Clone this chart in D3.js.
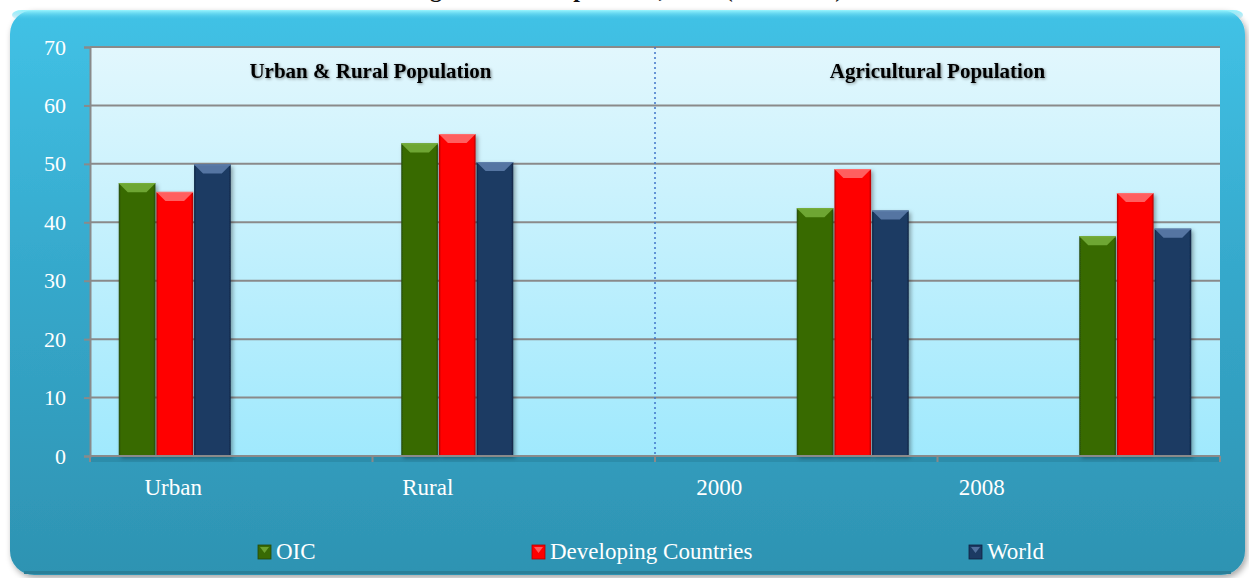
<!DOCTYPE html>
<html>
<head>
<meta charset="utf-8">
<script src="https://cdn.jsdelivr.net/npm/d3@7"></script>
<style>
  html, body { margin: 0; padding: 0; background: #ffffff; }
  svg { display: block; }
  text { font-family: 'Liberation Serif', 'DejaVu Serif', serif; }
</style>
</head>
<body>
<svg id="chart" width="1249" height="578"></svg>
<script>
// ---------------- data ----------------
const categories = ["Urban", "Rural", "2000", "2008"];
const sectionOfCategory = [0, 0, 1, 1];
const sectionTitles = ["Urban & Rural Population", "Agricultural Population"];
const seriesNames = ["OIC", "Developing Countries", "World"];
const oicValues = [46.7, 53.5, 42.4, 37.6];
const developingValues = [45.2, 55.1, 49.1, 45.0];
const worldValues = [49.9, 50.3, 42.0, 38.9];
const yTicks = [0, 10, 20, 30, 40, 50, 60, 70];
const chartTitle = "Agricultural Population, 2008 (% of total)";

// ---------------- layout ----------------
const W = 1249, H = 578;
const FONT = "'Liberation Serif', 'DejaVu Serif', serif";
const plot = { left: 90, right: 1220, top: 47, bottom: 456 };
const labelShift = [-58, -86, -77, -97]; // category label offset from band centre
const seriesColors = [
  { base: "#386a04", light: "#78b03c", dark: "#24480a" },
  { base: "#ff0000", light: "#ff7070", dark: "#b00000" },
  { base: "#1c3a63", light: "#5f80ad", dark: "#0f2240" }
];

const svg = d3.select("#chart");
const defs = svg.append("defs");

const pg = defs.append("linearGradient").attr("id", "panelGrad").attr("x1", 0).attr("y1", 0).attr("x2", 0).attr("y2", 1);
pg.append("stop").attr("offset", "0%").attr("stop-color", "#41c2e6");
pg.append("stop").attr("offset", "45%").attr("stop-color", "#36a9cc");
pg.append("stop").attr("offset", "100%").attr("stop-color", "#2e93b2");

const bg = defs.append("linearGradient").attr("id", "plotGrad").attr("x1", 0).attr("y1", 0).attr("x2", 0).attr("y2", 1);
bg.append("stop").attr("offset", "0%").attr("stop-color", "#e2f7fd");
bg.append("stop").attr("offset", "100%").attr("stop-color", "#a0e9fd");

const topHi = defs.append("linearGradient").attr("id", "topHi").attr("x1", 0).attr("y1", 0).attr("x2", 0).attr("y2", 1);
topHi.append("stop").attr("offset", "0%").attr("stop-color", "#9af6ff");
topHi.append("stop").attr("offset", "100%").attr("stop-color", "#41c2e6").attr("stop-opacity", 0);

const f = defs.append("filter").attr("id", "panelShadow").attr("x", "-5%").attr("y", "-5%").attr("width", "110%").attr("height", "115%");
f.append("feDropShadow").attr("dx", 2).attr("dy", 3).attr("stdDeviation", 3).attr("flood-color", "#000").attr("flood-opacity", 0.35);

const ts = defs.append("filter").attr("id", "textGlow").attr("x", "-10%").attr("y", "-30%").attr("width", "120%").attr("height", "160%");
ts.append("feDropShadow").attr("dx", 1).attr("dy", 1).attr("stdDeviation", 1.5).attr("flood-color", "#000").attr("flood-opacity", 0.45);

const bs = defs.append("filter").attr("id", "barShadow").attr("x", "-20%").attr("y", "-5%").attr("width", "140%").attr("height", "110%");
bs.append("feDropShadow").attr("dx", 2).attr("dy", 2).attr("stdDeviation", 2).attr("flood-color", "#000").attr("flood-opacity", 0.35);

// title (cut off at the top of the picture, as in the reference)
svg.append("text")
  .attr("x", 628).attr("y", -3)
  .attr("text-anchor", "middle")
  .attr("font-family", FONT)
  .attr("font-weight", "bold")
  .attr("font-size", 24)
  .attr("fill", "#111")
  .text(chartTitle);

// panel
svg.append("rect")
  .attr("x", 10).attr("y", 10).attr("width", 1235).attr("height", 565)
  .attr("rx", 24).attr("ry", 24)
  .attr("fill", "url(#panelGrad)")
  .attr("filter", "url(#panelShadow)");
svg.append("rect")
  .attr("x", 12).attr("y", 10).attr("width", 1231).attr("height", 10)
  .attr("rx", 10).attr("fill", "url(#topHi)");
svg.append("rect")
  .attr("x", 24).attr("y", 571).attr("width", 1207).attr("height", 3)
  .attr("fill", "#2a7f98");

// scales
const x = d3.scaleBand().domain(categories).range([plot.left, plot.right]).padding(0);
const slotKeys = d3.range(sectionTitles.length * seriesNames.length);
const inner = d3.scaleBand().domain(slotKeys).range([0, x.bandwidth()]).paddingInner(0).paddingOuter(0.75);
const y = d3.scaleLinear().domain([0, 70]).range([plot.bottom, plot.top]);

// plot background
svg.append("rect")
  .attr("x", plot.left).attr("y", plot.top)
  .attr("width", plot.right - plot.left).attr("height", plot.bottom - plot.top)
  .attr("fill", "url(#plotGrad)");
svg.append("rect")
  .attr("x", plot.left).attr("y", plot.bottom)
  .attr("width", plot.right - plot.left).attr("height", 6)
  .attr("fill", "#2a8aa6").attr("opacity", 0.8);

// gridlines
svg.append("g")
  .selectAll("line")
  .data(yTicks.filter(t => t > 0))
  .join("line")
  .attr("x1", plot.left).attr("x2", plot.right)
  .attr("y1", d => y(d)).attr("y2", d => y(d))
  .attr("stroke", "#8a8a8a").attr("stroke-width", 2);

// section divider
svg.append("line")
  .attr("x1", x(categories[2])).attr("x2", x(categories[2]))
  .attr("y1", plot.top).attr("y2", plot.bottom)
  .attr("stroke", "#3f74c8").attr("stroke-width", 1.5)
  .attr("stroke-dasharray", "2,3");

// section titles
sectionTitles.forEach((t, i) => {
  const cats = categories.filter((c, k) => sectionOfCategory[k] === i);
  const x0 = x(cats[0]), x1 = x(cats[cats.length - 1]) + x.bandwidth();
  svg.append("text")
    .attr("x", (x0 + x1) / 2 + (i === 0 ? -2 : 0)).attr("y", 78)
    .attr("text-anchor", "middle")
    .attr("font-family", FONT)
    .attr("font-weight", "bold")
    .attr("font-size", 21)
    .attr("fill", "#000")
    .attr("filter", "url(#textGlow)")
    .text(t);
});

// bars
const series = [oicValues, developingValues, worldValues];
const barData = [];
categories.forEach((c, ci) => {
  series.forEach((vals, si) => {
    barData.push({ cat: c, si, slot: sectionOfCategory[ci] * seriesNames.length + si, v: vals[ci] });
  });
});

seriesColors.forEach((col, i) => {
  const g = defs.append("linearGradient").attr("id", "barGrad" + i).attr("x1", 0).attr("y1", 0).attr("x2", 1).attr("y2", 0);
  g.append("stop").attr("offset", "0%").attr("stop-color", col.dark);
  g.append("stop").attr("offset", "6%").attr("stop-color", col.base);
  g.append("stop").attr("offset", "94%").attr("stop-color", col.base);
  g.append("stop").attr("offset", "100%").attr("stop-color", col.dark);
});

const barG = svg.append("g");
const bars = barG.selectAll("g.bar").data(barData).join("g").attr("class", "bar");
bars.append("rect")
  .attr("x", d => x(d.cat) + inner(d.slot) + 0.5)
  .attr("y", d => y(d.v))
  .attr("width", inner.bandwidth() - 1)
  .attr("height", d => y(0) - y(d.v))
  .attr("fill", d => `url(#barGrad${d.si})`)
  .attr("filter", "url(#barShadow)");
bars.append("path")
  .attr("d", d => {
    const x0 = x(d.cat) + inner(d.slot) + 0.5, w = inner.bandwidth() - 1, t = y(d.v), b = 9;
    return `M${x0},${t} L${x0 + w},${t} L${x0 + w - b},${t + b} L${x0 + b},${t + b} Z`;
  })
  .attr("fill", d => seriesColors[d.si].light)
  .attr("opacity", 0.85);
bars.append("line")
  .attr("x1", d => x(d.cat) + inner(d.slot) + 0.5)
  .attr("x2", d => x(d.cat) + inner(d.slot) + inner.bandwidth() - 0.5)
  .attr("y1", d => y(d.v) + 0.5).attr("y2", d => y(d.v) + 0.5)
  .attr("stroke", d => seriesColors[d.si].light).attr("stroke-width", 1);

// axes
const yAxis = d3.axisLeft(y).tickValues(yTicks).tickSize(6).tickPadding(18);
const yg = svg.append("g").attr("transform", `translate(${plot.left},0)`).call(yAxis);
yg.attr("font-family", FONT);
yg.select(".domain").attr("stroke", "#8a8a8a").attr("stroke-width", 2);
yg.selectAll(".tick line").attr("stroke", "#8a8a8a").attr("stroke-width", 2);
yg.selectAll(".tick text")
  .attr("fill", "#ffffff")
  .attr("font-family", FONT)
  .attr("font-size", 22);

const xg = svg.append("g").attr("transform", `translate(0,${plot.bottom})`);
xg.append("line")
  .attr("x1", plot.left).attr("x2", plot.right)
  .attr("y1", 0).attr("y2", 0)
  .attr("stroke", "#8a8a8a").attr("stroke-width", 2);
xg.selectAll("line.tick")
  .data(categories.concat(["__end"]))
  .join("line").attr("class", "tick")
  .attr("x1", d => d === "__end" ? plot.right : x(d))
  .attr("x2", d => d === "__end" ? plot.right : x(d))
  .attr("y1", 0).attr("y2", 6)
  .attr("stroke", "#8a8a8a").attr("stroke-width", 2);
xg.selectAll("text")
  .data(categories)
  .join("text")
  .attr("x", (d, i) => x(d) + x.bandwidth() / 2 + labelShift[i])
  .attr("y", 39)
  .attr("text-anchor", "middle")
  .attr("fill", "#ffffff")
  .attr("font-family", FONT)
  .attr("font-size", 23)
  .text(d => d);

// legend
const legendX = [258, 532, 969];
const lg = svg.append("g");
seriesNames.forEach((n, i) => {
  const g = lg.append("g").attr("transform", `translate(${legendX[i]},545)`);
  g.append("rect").attr("width", 13).attr("height", 14).attr("fill", seriesColors[i].base)
    .attr("stroke", seriesColors[i].dark).attr("stroke-width", 0.8);
  g.append("path").attr("d", "M2,2 L11,2 L6.5,8 Z").attr("fill", seriesColors[i].light).attr("opacity", 0.8);
  g.append("text").attr("x", 18).attr("y", 14)
    .attr("fill", "#ffffff")
    .attr("font-family", FONT)
    .attr("font-size", 23)
    .text(n);
});
</script>
</body>
</html>
